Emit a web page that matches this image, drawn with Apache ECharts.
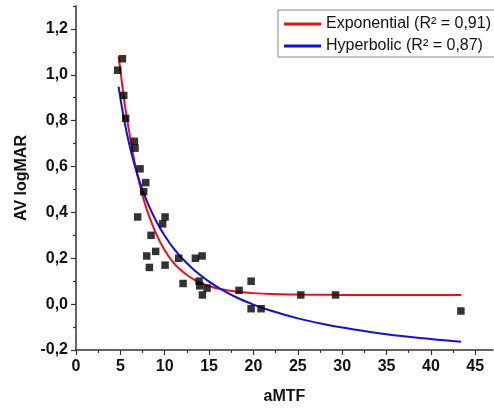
<!DOCTYPE html>
<html>
<head>
<meta charset="utf-8">
<script src="https://cdn.jsdelivr.net/npm/echarts@6/dist/echarts.min.js"></script>
<style>
html,body{margin:0;padding:0;background:#fff;}
#chart{width:494px;height:410px;}
</style>
</head>
<body>
<div id="chart"></div>
<script>
// Measured points (aMTF vs AV logMAR)
const aMTF = [4.70, 5.23, 5.38, 5.60, 6.58, 6.65, 7.22, 7.86, 7.63, 6.95, 10.04, 9.77, 8.46, 8.98, 7.97, 8.27, 10.04, 11.58, 13.46, 14.21, 12.07, 13.87, 13.95, 14.25, 14.77, 18.38, 19.74, 19.74, 20.86, 25.34, 29.25, 43.38];
const avLogMAR = [1.02, 1.07, 0.91, 0.81, 0.71, 0.68, 0.59, 0.53, 0.49, 0.38, 0.38, 0.35, 0.30, 0.23, 0.21, 0.16, 0.17, 0.20, 0.20, 0.21, 0.09, 0.10, 0.08, 0.04, 0.07, 0.06, 0.10, -0.02, -0.02, 0.04, 0.04, -0.03];

// Fitted curves
const curveX = [4.8, 5, 5.5, 6, 6.5, 7, 7.5, 8, 9, 10, 11, 12, 13, 14, 15, 16, 18, 20, 22, 25, 28, 30, 35, 40, 43.4];
const expY = [1.08, 1.02, 0.87, 0.75, 0.64, 0.55, 0.475, 0.41, 0.31, 0.235, 0.18, 0.142, 0.114, 0.093, 0.079, 0.068, 0.055, 0.048, 0.044, 0.042, 0.041, 0.040, 0.040, 0.040, 0.040];
const hypY = [0.948, 0.898, 0.789, 0.698, 0.621, 0.555, 0.498, 0.448, 0.365, 0.298, 0.243, 0.198, 0.160, 0.127, 0.098, 0.073, 0.031, -0.002, -0.029, -0.062, -0.088, -0.102, -0.131, -0.152, -0.164];

const xMajor = [0, 5, 10, 15, 20, 25, 30, 35, 40, 45];
const xMinor = [2.5, 7.5, 12.5, 17.5, 22.5, 27.5, 32.5, 37.5, 42.5];
const yMajor = [-0.2, 0, 0.2, 0.4, 0.6, 0.8, 1.0, 1.2];
const yMinor = [-0.1, 0.1, 0.3, 0.5, 0.7, 0.9, 1.1, 1.3];

const seriesNames = ['Exponential (R² = 0,91)', 'Hyperbolic (R² = 0,87)'];

const fmtY = v => v.toFixed(1).replace('.', ',').replace('-0,0', '0,0');
const axisColor = '#333';
const labelStyle = {fontFamily: 'Liberation Sans, Arial, sans-serif', fontSize: 16, fontWeight: 'bold', color: '#111'};

const chart = echarts.init(document.getElementById('chart'), null, {renderer: 'canvas'});
chart.setOption({
  animation: false,
  backgroundColor: '#fff',
  grid: {left: 76, right: 1, top: 6, bottom: 59, containLabel: false},
  legend: {
    data: seriesNames,
    orient: 'vertical',
    left: 278, top: 10,
    padding: [5, 20, 2, 6],
    itemGap: 4,
    itemWidth: 37, itemHeight: 3,
    borderColor: '#888', borderWidth: 1,
    backgroundColor: '#fff',
    textStyle: {fontFamily: 'Liberation Sans, Arial, sans-serif', fontSize: 16, color: '#111', lineHeight: 18},
    icon: 'path://M0,0L37,0L37,3L0,3Z'
  },
  xAxis: [{
    type: 'value', min: 0, max: 47, position: 'bottom',
    name: 'aMTF', nameLocation: 'middle', nameGap: 39,
    nameTextStyle: labelStyle,
    axisLine: {show: true, onZero: false, lineStyle: {color: axisColor, width: 1.5}},
    axisTick: {show: true, customValues: xMajor, length: 5, lineStyle: {color: axisColor, width: 1.2}},
    axisLabel: Object.assign({customValues: xMajor, margin: 9, formatter: v => String(v)}, labelStyle),
    splitLine: {show: false}
  }, {
    type: 'value', min: 0, max: 47, position: 'bottom',
    axisLine: {show: false, onZero: false},
    axisTick: {show: true, customValues: xMinor, length: 3, lineStyle: {color: axisColor, width: 1.2}},
    axisLabel: {show: false},
    splitLine: {show: false}
  }],
  yAxis: [{
    type: 'value', min: -0.2, max: 1.3, position: 'left',
    name: 'AV logMAR', nameLocation: 'middle', nameGap: 37, nameRotate: 90,
    nameTextStyle: labelStyle,
    axisLine: {show: true, onZero: false, lineStyle: {color: axisColor, width: 1.5}},
    axisTick: {show: true, customValues: yMajor, length: 5, lineStyle: {color: axisColor, width: 1.2}},
    axisLabel: Object.assign({customValues: yMajor, margin: 8, formatter: fmtY}, labelStyle),
    splitLine: {show: false}
  }, {
    type: 'value', min: -0.2, max: 1.3, position: 'left',
    axisLine: {show: false, onZero: false},
    axisTick: {show: true, customValues: yMinor, length: 3, lineStyle: {color: axisColor, width: 1.2}},
    axisLabel: {show: false},
    splitLine: {show: false}
  }],
  series: [{
    name: seriesNames[0], type: 'line', xAxisIndex: 0, yAxisIndex: 0,
    data: curveX.map((x, i) => [x, expY[i]]),
    smooth: 0.4, showSymbol: false, symbol: 'none',
    lineStyle: {color: '#f01010', width: 2}, itemStyle: {color: '#f01010'}, z: 2
  }, {
    name: seriesNames[1], type: 'line', xAxisIndex: 0, yAxisIndex: 0,
    data: curveX.map((x, i) => [x, hypY[i]]),
    smooth: 0.4, showSymbol: false, symbol: 'none',
    lineStyle: {color: '#1010e0', width: 2}, itemStyle: {color: '#1010e0'}, z: 2
  }, {
    name: 'data', type: 'scatter', xAxisIndex: 0, yAxisIndex: 0,
    data: aMTF.map((x, i) => [x, avLogMAR[i]]),
    symbol: 'rect', symbolSize: 7.5,
    itemStyle: {color: '#000'}, z: 3
  }]
});
</script>
</body>
</html>
